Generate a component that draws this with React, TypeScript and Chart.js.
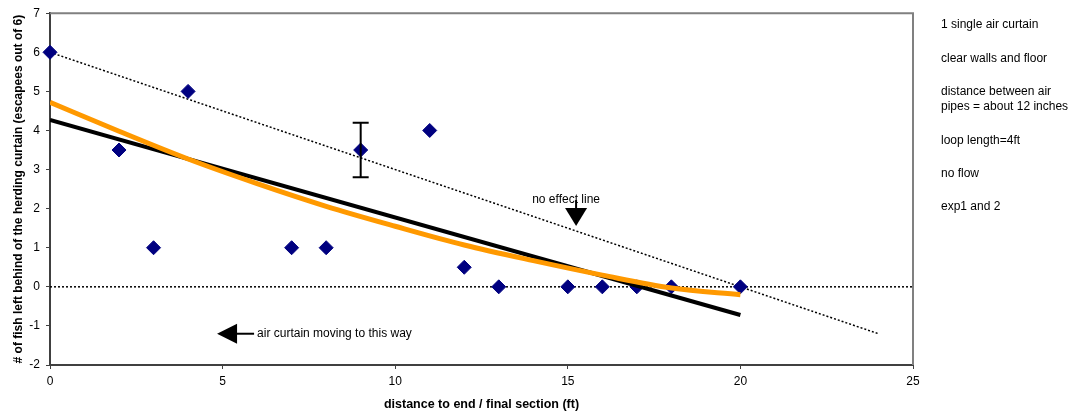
import React, { useEffect, useRef } from "react";
import { Chart, registerables } from "chart.js";

Chart.register(...registerables);

const pointX = [0, 2, 3, 4, 7, 8, 9, 11, 12, 13, 15, 16, 17, 18, 20];
const pointY = [6, 3.5, 1, 5, 1, 1, 3.5, 4, 0.5, 0, 0, 0, 0, 0, 0];

const linearX = [0, 20];
const linearY = [4.27, -0.72];

const curveX = [0, 2, 4, 6, 8, 10, 12, 14, 16, 18, 20];
const curveY = [4.72, 3.98, 3.27, 2.64, 2.06, 1.55, 1.07, 0.67, 0.3, -0.03, -0.2];

const noEffectX = [0, 24];
const noEffectY = [6, -1.2];

const zeroX = [0, 25];
const zeroY = [0, 0];

const errorX = [9];
const errorLow = [2.8];
const errorHigh = [4.2];

const xTicks = [0, 5, 10, 15, 20, 25];
const yTicks = [-2, -1, 0, 1, 2, 3, 4, 5, 6, 7];

const notes = [
  ["1 single air curtain"],
  ["clear walls and floor"],
  ["distance between air", "pipes = about 12 inches"],
  ["loop length=4ft"],
  ["no flow"],
  ["exp1 and 2"],
];

const noEffectLabel = { x: 14.95, y: 2.22, text: "no effect line", arrowX: 15.24 };
const curtainLabel = { x: 4.84, y: -1.2, text: "air curtain moving to this way" };

const FONT = "'Liberation Sans', Arial, sans-serif";

const zip = (xs: number[], ys: number[]) => xs.map((x, i) => ({ x, y: ys[i] }));

const extrasPlugin = {
  id: "extras",
  afterDatasetsDraw(chart: any) {
    const { ctx, chartArea, scales } = chart;
    const xs = scales.x;
    const ys = scales.y;
    ctx.save();
    // top and right frame
    ctx.strokeStyle = "#808080";
    ctx.lineWidth = 2;
    ctx.beginPath();
    ctx.moveTo(chartArea.left, chartArea.top);
    ctx.lineTo(chartArea.right, chartArea.top);
    ctx.lineTo(chartArea.right, chartArea.bottom);
    ctx.stroke();

    // error bar
    ctx.strokeStyle = "#000";
    ctx.lineWidth = 2;
    errorX.forEach((ex, i) => {
      const px = xs.getPixelForValue(ex);
      const lo = ys.getPixelForValue(errorLow[i]);
      const hi = ys.getPixelForValue(errorHigh[i]);
      ctx.beginPath();
      ctx.moveTo(px, lo);
      ctx.lineTo(px, hi);
      ctx.moveTo(px - 8, lo);
      ctx.lineTo(px + 8, lo);
      ctx.moveTo(px - 8, hi);
      ctx.lineTo(px + 8, hi);
      ctx.stroke();
    });

    // no effect line label + down arrow
    ctx.fillStyle = "#000";
    ctx.font = `12px ${FONT}`;
    ctx.textAlign = "center";
    ctx.textBaseline = "middle";
    const nx = xs.getPixelForValue(noEffectLabel.x);
    const ny = ys.getPixelForValue(noEffectLabel.y);
    ctx.fillText(noEffectLabel.text, nx, ny);
    const ax = xs.getPixelForValue(noEffectLabel.arrowX);
    ctx.lineWidth = 2;
    ctx.beginPath();
    ctx.moveTo(ax, ny);
    ctx.lineTo(ax, ny + 10);
    ctx.stroke();
    ctx.beginPath();
    ctx.moveTo(ax - 11, ny + 8);
    ctx.lineTo(ax + 11, ny + 8);
    ctx.lineTo(ax, ny + 26);
    ctx.closePath();
    ctx.fill();

    // left arrow + text
    const cx = xs.getPixelForValue(curtainLabel.x);
    const cy = ys.getPixelForValue(curtainLabel.y);
    ctx.beginPath();
    ctx.moveTo(cx, cy);
    ctx.lineTo(cx + 20, cy - 10);
    ctx.lineTo(cx + 20, cy + 10);
    ctx.closePath();
    ctx.fill();
    ctx.beginPath();
    ctx.moveTo(cx + 18, cy);
    ctx.lineTo(cx + 37, cy);
    ctx.stroke();
    ctx.textAlign = "left";
    ctx.fillText(curtainLabel.text, cx + 40, cy);

    // right-side notes
    let y = 25;
    const nxr = chartArea.right + 28;
    notes.forEach((lines) => {
      lines.forEach((l, j) => {
        ctx.fillText(l, nxr, y + j * 15.5);
      });
      y += 33.3 + (lines.length - 1) * 15.5;
    });
    ctx.restore();
  },
};

export default function App() {
  const ref = useRef<HTMLCanvasElement>(null);
  useEffect(() => {
    if (!ref.current) return;
    const chart = new Chart(ref.current, {
      type: "scatter",
      data: {
        datasets: [
          {
            data: zip(curveX, curveY),
            showLine: true,
            borderColor: "#FF9900",
            borderWidth: 5,
            pointRadius: 0,
            cubicInterpolationMode: "monotone",
          } as any,
          {
            data: zip(linearX, linearY),
            showLine: true,
            borderColor: "#000000",
            borderWidth: 4,
            pointRadius: 0,
          },
          {
            data: zip(pointX, pointY),
            pointStyle: "rectRot",
            pointRadius: 7,
            backgroundColor: "#000080",
            borderColor: "#000080",
            borderWidth: 1,
            clip: false,
          } as any,
          {
            data: zip(noEffectX, noEffectY),
            showLine: true,
            borderColor: "#000000",
            borderWidth: 1.5,
            borderDash: [2, 2],
            pointRadius: 0,
          },
          {
            data: zip(zeroX, zeroY),
            showLine: true,
            borderColor: "#000000",
            borderWidth: 1.5,
            borderDash: [2, 2],
            pointRadius: 0,
          },
        ],
      },
      options: {
        animation: false,
        responsive: false,
        events: [],
        layout: { padding: { top: 13, right: 164, left: 0, bottom: 0 } },
        plugins: { legend: { display: false }, tooltip: { enabled: false } },
        scales: {
          x: {
            type: "linear",
            min: 0,
            max: 25,
            afterFit: (s: any) => {
              s.height = 50;
            },
            afterBuildTicks: (s: any) => {
              s.ticks = xTicks.map((v) => ({ value: v }));
            },
            grid: { drawOnChartArea: false, drawTicks: true, tickLength: 4, tickColor: "#404040", tickWidth: 1 },
            border: { color: "#404040", width: 2 },
            ticks: { color: "#000", font: { family: FONT, size: 12 }, padding: 5, maxRotation: 0 },
            title: {
              display: true,
              text: "distance to end / final section (ft)",
              color: "#000",
              font: { family: FONT, size: 12.5, weight: "bold" },
              padding: { top: 4, bottom: 3 },
            },
          },
          y: {
            type: "linear",
            min: -2,
            max: 7,
            afterFit: (s: any) => {
              s.width = 50;
            },
            afterBuildTicks: (s: any) => {
              s.ticks = yTicks.map((v) => ({ value: v }));
            },
            grid: { drawOnChartArea: false, drawTicks: true, tickLength: 4, tickColor: "#404040", tickWidth: 1 },
            border: { color: "#404040", width: 2 },
            ticks: { color: "#000", font: { family: FONT, size: 12 }, padding: 6 },
            title: {
              display: true,
              text: "# of fish left behind of the herding curtain (escapees out of 6)",
              color: "#000",
              font: { family: FONT, size: 12, weight: "bold" },
              padding: { top: 11, bottom: 0 },
            },
          },
        },
      },
      plugins: [extrasPlugin],
    });
    return () => chart.destroy();
  }, []);
  return (
    <div style={{ position: "absolute", left: 0, top: 0, width: 1077, height: 415, background: "#fff" }}>
      <canvas ref={ref} width={1077} height={415} style={{ display: "block" }} />
    </div>
  );
}
